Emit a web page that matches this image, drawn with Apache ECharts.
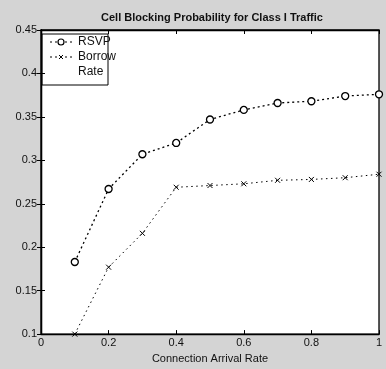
<!DOCTYPE html>
<html><head><meta charset="utf-8">
<script src="https://cdn.jsdelivr.net/npm/echarts@6/dist/echarts.min.js"></script>
<style>html,body{margin:0;padding:0;background:#d4d4d4}#c{width:386px;height:369px}</style>
</head><body><div id="c"></div>
<script>
const xValues = [0.1, 0.2, 0.3, 0.4, 0.5, 0.6, 0.7, 0.8, 0.9, 1.0];
const rsvp = [0.183, 0.267, 0.307, 0.320, 0.347, 0.358, 0.366, 0.368, 0.374, 0.376];
const borrowRate = [0.100, 0.177, 0.216, 0.269, 0.271, 0.273, 0.277, 0.278, 0.280, 0.284];
const title = 'Cell Blocking Probability for Class I Traffic';
const xLabel = 'Connection Arrival Rate';
const seriesNames = ['RSVP', 'Borrow', 'Rate'];

const font = 'Liberation Sans, Arial, sans-serif';
const crossPath = 'path://M0,0L10,10M10,0L0,10';
const chart = echarts.init(document.getElementById('c'));
const axisCommon = {
  axisLine: {show: true, lineStyle: {color: '#000', width: 1.3}},
  axisTick: {show: true, inside: true, length: 4, lineStyle: {color: '#000'}},
  splitLine: {show: false}
};
chart.setOption({
  backgroundColor: '#d4d4d4',
  animation: false,
  title: {text: title, left: 207, textAlign: 'center', top: 7,
    textStyle: {fontFamily: font, fontSize: 11, fontWeight: 'bold', color: '#111'}},
  grid: {left: 41, right: 7, top: 30, bottom: 32, show: true, backgroundColor: '#fff', borderColor: '#000', borderWidth: 1.3},
  xAxis: [
    Object.assign({type: 'value', min: 0, max: 1, interval: 0.2, position: 'bottom',
      name: xLabel, nameLocation: 'middle', nameGap: 14,
      nameTextStyle: {fontFamily: font, fontSize: 11, color: '#111'},
      axisLabel: {fontFamily: font, fontSize: 11, color: '#111', margin: 3,
        formatter: v => String(+v.toFixed(1))}}, axisCommon),
    Object.assign({type: 'value', min: 0, max: 1, interval: 0.2, position: 'top', axisLabel: {show: false}}, axisCommon)
  ],
  yAxis: [
    Object.assign({type: 'value', min: 0.1, max: 0.45, interval: 0.05, position: 'left',
      axisLabel: {fontFamily: font, fontSize: 11, color: '#111', margin: 4,
        formatter: v => String(+v.toFixed(2))}}, axisCommon),
    Object.assign({type: 'value', min: 0.1, max: 0.45, interval: 0.05, position: 'right', axisLabel: {show: false}}, axisCommon)
  ],
  series: [
    {name: seriesNames[0], type: 'line', data: xValues.map((x, i) => [x, rsvp[i]]),
      symbol: 'circle', symbolSize: 7, showAllSymbol: true,
      itemStyle: {color: '#fff', borderColor: '#000', borderWidth: 1.3},
      lineStyle: {color: '#000', width: 1.3, type: [2, 3]}},
    {name: seriesNames[1], type: 'line', data: xValues.map((x, i) => [x, borrowRate[i]]),
      symbol: crossPath, symbolSize: 5, showAllSymbol: true,
      itemStyle: {color: 'none', borderColor: '#000', borderWidth: 1},
      lineStyle: {color: '#000', width: 1, type: [1.5, 3.5]}}
  ],
  graphic: [
    {type: 'rect', shape: {x: 42, y: 34, width: 66, height: 51}, style: {fill: '#fff', stroke: '#000', lineWidth: 1}},
    {type: 'line', shape: {x1: 50, y1: 42, x2: 72, y2: 42}, style: {stroke: '#000', lineWidth: 1.2, lineDash: [2, 3]}},
    {type: 'circle', shape: {cx: 61, cy: 42, r: 3}, style: {fill: '#fff', stroke: '#000', lineWidth: 1.2}},
    {type: 'text', x: 78, y: 42, style: {text: seriesNames[0], font: '12px ' + font, fill: '#111', verticalAlign: 'middle'}},
    {type: 'line', shape: {x1: 50, y1: 57, x2: 72, y2: 57}, style: {stroke: '#000', lineWidth: 1, lineDash: [2, 3]}},
    {type: 'line', shape: {x1: 59, y1: 55, x2: 63, y2: 59}, style: {stroke: '#000', lineWidth: 1}},
    {type: 'line', shape: {x1: 63, y1: 55, x2: 59, y2: 59}, style: {stroke: '#000', lineWidth: 1}},
    {type: 'text', x: 78, y: 57, style: {text: seriesNames[1], font: '12px ' + font, fill: '#111', verticalAlign: 'middle'}},
    {type: 'text', x: 78, y: 72, style: {text: seriesNames[2], font: '12px ' + font, fill: '#111', verticalAlign: 'middle'}}
  ]
});
</script></body></html>
